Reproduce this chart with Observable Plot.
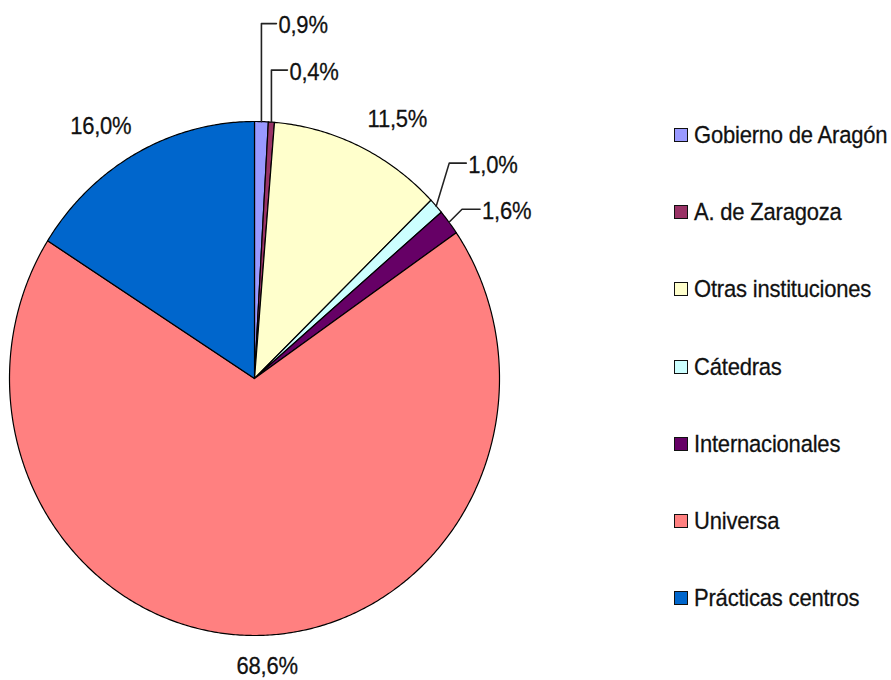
<!DOCTYPE html>
<html>
<head>
<meta charset="utf-8">
<script src="https://cdn.jsdelivr.net/npm/d3@7"></script>
<script src="https://cdn.jsdelivr.net/npm/@observablehq/plot@0.6"></script>
<style>
  html, body { margin: 0; padding: 0; background: #fff; }
  #wrap { position: relative; width: 891px; height: 680px; font-family: "Liberation Sans", Arial, sans-serif; }
  #chart svg { display: block; }
  #legend { position: absolute; left: 674px; top: 96px; }
  .item { height: 77.3px; display: flex; align-items: center; font-size: 22px; color: #111; letter-spacing: -0.2px; }
  .item .tx { display: inline-block; transform: scaleY(1.08); -webkit-text-stroke: 0.25px #111; }
  .sw { width: 12px; height: 12px; border: 1.6px solid #111; margin-right: 6px; flex: none; }
</style>
</head>
<body>
<div id="wrap">
  <div id="chart"></div>
  <div id="legend"></div>
</div>
<script>
// ---- data ----
const categories = ["Gobierno de Aragón", "A. de Zaragoza", "Otras instituciones", "Cátedras", "Internacionales", "Universa", "Prácticas centros"];
const values = [0.9, 0.4, 11.5, 1.0, 1.6, 68.6, 16.0];
const valueLabels = ["0,9%", "0,4%", "11,5%", "1,0%", "1,6%", "68,6%", "16,0%"];
const colors = ["#9999ff", "#993366", "#ffffcc", "#ccffff", "#660066", "#ff8080", "#0066cc"];

// ---- label layout (pixels) ----
// leader labels: elbow offset from slice edge, then horizontal run
const leaderLayout = {
  "Gobierno de Aragón": {dx: 0, dy: -98, run: 15},
  "A. de Zaragoza": {dx: 0, dy: -52, run: 16},
  "Cátedras": {dx: 13, dy: -43, run: 17},
  "Internacionales": {dx: 13, dy: -13, run: 18}
};
// plain labels: offset from slice edge and anchor
const plainLayout = {
  "Otras instituciones": {dx: 8, dy: -27, anchor: "start"},
  "Universa": {dx: 8, dy: 31, anchor: "middle"},
  "Prácticas centros": {dx: -5, dy: -27, anchor: "end"}
};

const W = 891, H = 680;
const mL = 9, mR = 392, mT = 121, mB = 45;
const kx = (W - mL - mR) / 2, ky = (H - mT - mB) / 2; // px per data unit

// build slice polygons
const total = d3.sum(values);
const slices = [];
let acc = 0;
categories.forEach((c, i) => {
  const a0 = acc / total * 2 * Math.PI;
  acc += values[i];
  const a1 = acc / total * 2 * Math.PI;
  slices.push({cat: c, a0, a1, mid: (a0 + a1) / 2, label: valueLabels[i]});
});
const piePts = [];
for (const s of slices) {
  piePts.push({cat: s.cat, x: 0, y: 0});
  const n = Math.max(2, Math.ceil((s.a1 - s.a0) / (Math.PI / 360)));
  for (let k = 0; k <= n; k++) {
    const a = s.a0 + (s.a1 - s.a0) * k / n;
    piePts.push({cat: s.cat, x: Math.sin(a), y: Math.cos(a)});
  }
  piePts.push({cat: s.cat, x: 0, y: 0});
}

// labels and leaders
const leaderPts = [];
const textStart = [], textEnd = [], textMid = [];
for (const s of slices) {
  const ex = Math.sin(s.mid), ey = Math.cos(s.mid);
  if (leaderLayout[s.cat]) {
    const L = leaderLayout[s.cat];
    const bx = ex + L.dx / kx, by = ey - L.dy / ky;
    const tx = bx + L.run / kx;
    leaderPts.push({cat: s.cat, x: ex, y: ey}, {cat: s.cat, x: bx, y: by}, {cat: s.cat, x: tx, y: by});
    textStart.push({x: tx + 2 / kx, y: by - 2 / ky, text: s.label});
  } else {
    const P = plainLayout[s.cat];
    const d = {x: ex + P.dx / kx, y: ey - P.dy / ky, text: s.label};
    (P.anchor === "start" ? textStart : P.anchor === "end" ? textEnd : textMid).push(d);
  }
}

const textOpts = {x: "x", y: "y", text: "text", fontSize: 22, fill: "#111", stroke: "#111", strokeWidth: 0.25, lineAnchor: "middle", fontFamily: "Liberation Sans, Arial, sans-serif"};

const plot = Plot.plot({
  width: W, height: H,
  marginLeft: mL, marginRight: mR, marginTop: mT, marginBottom: mB,
  x: {domain: [-1, 1], axis: null},
  y: {domain: [-1, 1], axis: null},
  color: {domain: categories, range: colors},
  style: {background: "white"},
  marks: [
    Plot.line(piePts, {x: "x", y: "y", z: "cat", fill: "cat", stroke: "#000", strokeWidth: 1.2, curve: "linear", strokeLinejoin: "round"}),
    Plot.line(leaderPts, {x: "x", y: "y", z: "cat", stroke: "#222", strokeWidth: 1.6}),
    Plot.text(textStart, {...textOpts, textAnchor: "start"}),
    Plot.text(textEnd, {...textOpts, textAnchor: "end"}),
    Plot.text(textMid, {...textOpts, textAnchor: "middle"})
  ]
});
document.getElementById("chart").appendChild(plot);
plot.querySelectorAll("text").forEach(t => {
  t.setAttribute("letter-spacing", "-0.2");
  const tr = t.getAttribute("transform");
  if (tr && tr.includes("translate")) t.setAttribute("transform", tr + " scale(1,1.08)");
});

// legend from the plot's color scale
const cs = plot.scale("color");
const leg = document.getElementById("legend");
cs.domain.forEach((c, i) => {
  const row = document.createElement("div");
  row.className = "item";
  const sw = document.createElement("span");
  sw.className = "sw";
  sw.style.background = cs.range[i];
  const t = document.createElement("span");
  t.className = "tx";
  t.textContent = c;
  row.appendChild(sw);
  row.appendChild(t);
  leg.appendChild(row);
});
</script>
</body>
</html>
